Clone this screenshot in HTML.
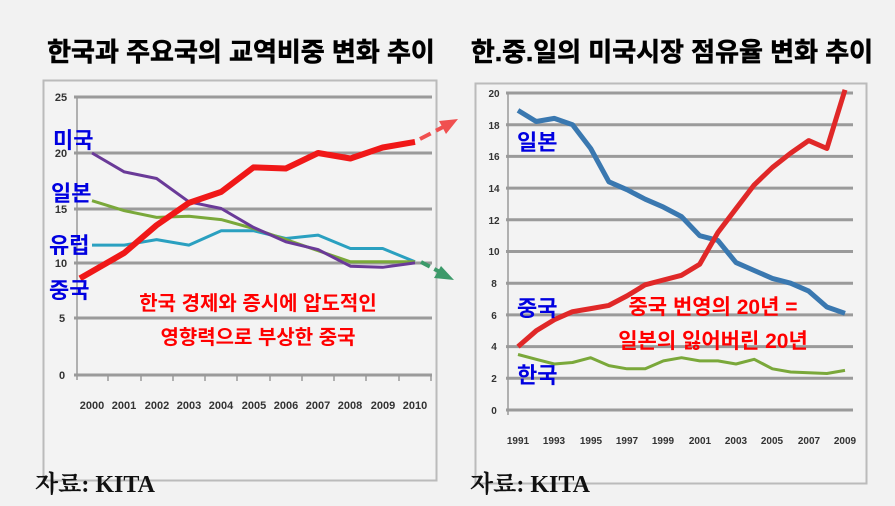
<!DOCTYPE html>
<html><head><meta charset="utf-8"><style>
html,body{margin:0;padding:0;background:#f2f2f2;width:895px;height:506px;overflow:hidden}
svg{display:block}
.t{font-family:"Liberation Sans","Noto Sans CJK KR",sans-serif;font-weight:bold}
</style></head><body>
<svg width="895" height="506" viewBox="0 0 895 506">
<rect width="895" height="506" fill="#f2f2f2"/>
<text class="t" x="241" y="61" font-size="26" text-anchor="middle" fill="#000" stroke="#000" stroke-width="0.6">한국과 주요국의 교역비중 변화 추이</text>
<text class="t" x="672" y="61" font-size="26" text-anchor="middle" fill="#000" stroke="#000" stroke-width="0.6">한.중.일의 미국시장 점유율 변화 추이</text>

<!-- left frame -->
<rect x="43.5" y="80.5" width="393" height="400" fill="#f3f3f3" stroke="#bbb" stroke-width="2"/>
<g stroke="#9a9a9a" stroke-width="3">
<line x1="74" y1="97" x2="432" y2="97"/><line x1="74" y1="153" x2="432" y2="153"/>
<line x1="74" y1="209" x2="432" y2="209"/><line x1="74" y1="263" x2="432" y2="263"/>
<line x1="74" y1="318" x2="432" y2="318"/><line x1="74" y1="375" x2="432" y2="375"/>
</g>
<line x1="77" y1="97" x2="77" y2="380" stroke="#999" stroke-width="1.5"/>
<g stroke="#999" stroke-width="1.5">
<line x1="108" y1="375" x2="108" y2="381"/><line x1="141" y1="375" x2="141" y2="381"/><line x1="173" y1="375" x2="173" y2="381"/><line x1="205" y1="375" x2="205" y2="381"/><line x1="237" y1="375" x2="237" y2="381"/><line x1="270" y1="375" x2="270" y2="381"/><line x1="302" y1="375" x2="302" y2="381"/><line x1="334" y1="375" x2="334" y2="381"/><line x1="366" y1="375" x2="366" y2="381"/><line x1="399" y1="375" x2="399" y2="381"/><line x1="431" y1="375" x2="431" y2="381"/>
</g>
<g font-family="Liberation Sans,sans-serif" font-weight="bold" font-size="11" fill="#333" text-anchor="middle">
<text x="61" y="101">25</text><text x="61" y="157">20</text><text x="61" y="213">15</text><text x="61" y="267">10</text><text x="62" y="322">5</text><text x="62" y="379">0</text>
<text x="92" y="409">2000</text><text x="124" y="409">2001</text><text x="157" y="409">2002</text><text x="189" y="409">2003</text><text x="221" y="409">2004</text><text x="254" y="409">2005</text><text x="286" y="409">2006</text><text x="318" y="409">2007</text><text x="350" y="409">2008</text><text x="383" y="409">2009</text><text x="415" y="409">2010</text>
</g>
<g fill="none" stroke-linejoin="round">
<polyline stroke="#2aa0c0" stroke-width="3" points="92,245.1 124.3,245.1 156.6,239.6 188.9,245.1 221.2,230.7 253.5,230.7 285.8,238.5 318.1,235.1 350.4,248.5 382.7,248.5 415,261.8"/>
<polyline stroke="#7aa83a" stroke-width="3" points="92,200.7 124.3,210.7 156.6,217.4 188.9,216.3 221.2,219.6 253.5,228.5 285.8,239.6 318.1,250.7 350.4,261.8 382.7,261.8 415,261.8"/>
<polyline stroke="#6a3a98" stroke-width="3" points="92,153 124.3,171.9 156.6,178.5 188.9,201.8 221.2,208.5 253.5,227.4 285.8,241.8 318.1,249.6 350.4,266.2 382.7,267.3 415,262.9"/>
<polyline stroke="#f01818" stroke-width="6" points="80,278.4 124.3,252.9 156.6,225.2 188.9,202.9 221.2,191.9 253.5,167.4 285.8,168.5 318.1,153 350.4,158.5 382.7,147.5 415,141.9"/>
</g>
<line x1="420" y1="139" x2="445" y2="126" stroke="#f05050" stroke-width="4" stroke-dasharray="12,6"/>
<polygon points="458,119 439,121 446,134" fill="#f05050"/>
<line x1="421" y1="262" x2="440" y2="272" stroke="#3c9a6a" stroke-width="4" stroke-dasharray="10,5"/>
<polygon points="454,280 434,278 441,266" fill="#3c9a6a"/>
<g class="t" fill="#0000e0" font-size="22">
<text x="53" y="148">미국</text><text x="51" y="201">일본</text><text x="49" y="253">유럽</text><text x="49" y="298">중국</text>
</g>
<g class="t" fill="#ff0000" font-size="20" text-anchor="middle">
<text x="258" y="310">한국 경제와 증시에 압도적인</text><text x="258" y="344">영향력으로 부상한 중국</text>
</g>

<!-- right frame -->
<rect x="475.5" y="83.5" width="391" height="400" fill="#f3f3f3" stroke="#bbb" stroke-width="2"/>
<g stroke="#9a9a9a" stroke-width="3">
<line x1="506" y1="93" x2="853" y2="93"/><line x1="506" y1="124.7" x2="853" y2="124.7"/><line x1="506" y1="156.4" x2="853" y2="156.4"/><line x1="506" y1="188.1" x2="853" y2="188.1"/><line x1="506" y1="219.8" x2="853" y2="219.8"/><line x1="506" y1="251.5" x2="853" y2="251.5"/><line x1="506" y1="283.2" x2="853" y2="283.2"/><line x1="506" y1="314.9" x2="853" y2="314.9"/><line x1="506" y1="346.6" x2="853" y2="346.6"/><line x1="506" y1="378.3" x2="853" y2="378.3"/><line x1="506" y1="410" x2="853" y2="410"/>
</g>
<line x1="508" y1="93" x2="508" y2="415" stroke="#999" stroke-width="1.5"/>
<g font-family="Liberation Sans,sans-serif" font-weight="bold" font-size="10" fill="#333" text-anchor="middle">
<text x="494" y="97">20</text><text x="494" y="129">18</text><text x="494" y="160">16</text><text x="494" y="192">14</text><text x="494" y="224">12</text><text x="494" y="255">10</text><text x="494" y="287">8</text><text x="494" y="319">6</text><text x="494" y="350">4</text><text x="494" y="382">2</text><text x="494" y="414">0</text>
<text x="518" y="444">1991</text><text x="554" y="444">1993</text><text x="591" y="444">1995</text><text x="627" y="444">1997</text><text x="663" y="444">1999</text><text x="700" y="444">2001</text><text x="736" y="444">2003</text><text x="772" y="444">2005</text><text x="809" y="444">2007</text><text x="845" y="444">2009</text>
</g>
<g fill="none" stroke-linejoin="round">
<polyline stroke="#7aa83a" stroke-width="3" points="518,354.5 536.2,359.3 554.3,364 572.5,362.5 590.7,357.7 608.9,365.6 627,368.8 645.2,368.8 663.4,360.9 681.5,357.7 699.7,360.9 717.9,360.9 736,364 754.2,359.3 772.4,368.8 790.6,372 808.7,372.8 826.9,373.5 845,370.4"/>
<polyline stroke="#3a78b0" stroke-width="5" points="518,110.4 536.2,121.5 554.3,118.4 572.5,124.7 590.7,148.5 608.9,181.8 627,189.7 645.2,199.2 663.4,207.1 681.5,216.6 699.7,235.7 717.9,240.4 736,262.6 754.2,270.5 772.4,278.4 790.6,283.2 808.7,291.1 826.9,307 845,313.3"/>
<polyline stroke="#e02828" stroke-width="5" points="518,346.6 536.2,330.8 554.3,319.7 572.5,311.7 590.7,308.6 608.9,305.4 627,295.9 645.2,284.8 663.4,280 681.5,275.3 699.7,264.2 717.9,232.5 736,208.7 754.2,184.9 772.4,167.5 790.6,153.2 808.7,140.6 826.9,148.5 845,89.8"/>
</g>
<g class="t" fill="#0000e0" font-size="22">
<text x="517" y="150">일본</text><text x="517" y="316">중국</text><text x="517" y="383">한국</text>
</g>
<g class="t" fill="#ff0000" font-size="21" text-anchor="middle">
<text x="713" y="314">중국 번영의 20년 =</text><text x="713" y="348">일본의 잃어버린 20년</text>
</g>

<g font-family="Liberation Serif,'Noto Serif CJK SC',serif" font-weight="bold" font-size="24" fill="#111">
<text x="35" y="492">자료: KITA</text><text x="470" y="492">자료: KITA</text>
</g>
</svg>
</body></html>
